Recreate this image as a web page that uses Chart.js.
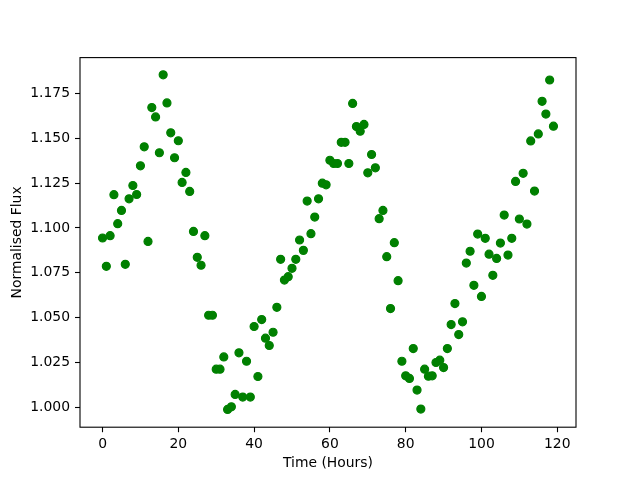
<!DOCTYPE html>
<html>
<head>
<meta charset="utf-8">
<script src="https://cdn.jsdelivr.net/npm/chart.js@4"></script>
<style>
    body { margin: 0; background: #fff; }
</style>
</head>
<body>
<canvas id="fluxChart" width="640" height="480"></canvas>
<script>
const hours = [
    0, 1, 2, 3, 4, 5, 6, 7, 8, 9, 10, 11, 12, 13, 14, 15, 16, 17, 18, 19,
    20, 21, 22, 23, 24, 25, 26, 27, 28, 29, 30, 31, 32, 33, 34, 35, 36, 37, 38, 39,
    40, 41, 42, 43, 44, 45, 46, 47, 48, 49, 50, 51, 52, 53, 54, 55, 56, 57, 58, 59,
    60, 61, 62, 63, 64, 65, 66, 67, 68, 69, 70, 71, 72, 73, 74, 75, 76, 77, 78, 79,
    80, 81, 82, 83, 84, 85, 86, 87, 88, 89, 90, 91, 92, 93, 94, 95, 96, 97, 98, 99,
    100, 101, 102, 103, 104, 105, 106, 107, 108, 109, 110, 111, 112, 113, 114, 115, 116, 117, 118, 119
];
const flux = [
    1.0944, 1.0786, 1.0957, 1.1186, 1.1024, 1.1098, 1.0797, 1.1163, 1.1237, 1.1187,
    1.1347, 1.1453, 1.0925, 1.1672, 1.1620, 1.1420, 1.1855, 1.1698, 1.1531, 1.1392,
    1.1487, 1.1254, 1.1310, 1.1204, 1.0981, 1.0836, 1.0792, 1.0957, 1.0513, 1.0513,
    1.0212, 1.0212, 1.0280, 0.9987, 1.0002, 1.0071, 1.0303, 1.0056, 1.0256, 1.0056,
    1.0450, 1.0171, 1.0489, 1.0385, 1.0344, 1.0418, 1.0557, 1.0825, 1.0709, 1.0728,
    1.0775, 1.0825, 1.0933, 1.0875, 1.1150, 1.0968, 1.1061, 1.1163, 1.1250, 1.1241,
    1.1378, 1.1360, 1.1360, 1.1478, 1.1478, 1.1360, 1.1695, 1.1566, 1.1540, 1.1578,
    1.1308, 1.1410, 1.1336, 1.1052, 1.1098, 1.0840, 1.0550, 1.0918, 1.0706, 1.0256,
    1.0175, 1.0160, 1.0327, 1.0095, 0.9989, 1.0212, 1.0173, 1.0175, 1.0249, 1.0262,
    1.0221, 1.0327, 1.0461, 1.0578, 1.0405, 1.0476, 1.0804, 1.0870, 1.0680, 1.0966,
    1.0618, 1.0942, 1.0854, 1.0736, 1.0830, 1.0916, 1.1072, 1.0849, 1.0942, 1.1260,
    1.1050, 1.1305, 1.1022, 1.1486, 1.1206, 1.1525, 1.1707, 1.1636, 1.1826, 1.1568
];
const xTickValues = [0, 20, 40, 60, 80, 100, 120];
const yTickValues = [1.000, 1.025, 1.050, 1.075, 1.100, 1.125, 1.150, 1.175];

const font = { family: "'DejaVu Sans', sans-serif", size: 13.9 };

// matplotlib style box around the plot area
const frame = {
    id: 'frame',
    afterDraw(chart) {
        const { ctx, chartArea: a } = chart;
        ctx.save();
        ctx.strokeStyle = '#000';
        ctx.lineWidth = 1.1;
        ctx.strokeRect(a.left, a.top, a.right - a.left, a.bottom - a.top);
        ctx.restore();
    }
};

Chart.defaults.color = '#000';

const ctx = document.getElementById("fluxChart").getContext("2d");
new Chart(ctx, {
    type: 'scatter',
    data: {
        datasets: [{
            data: hours.map((h, i) => ({ x: h, y: flux[i] })),
            backgroundColor: '#008000',
            borderColor: '#008000',
            borderWidth: 1.2,
            pointRadius: 4,
            pointHoverRadius: 4
        }]
    },
    options: {
        responsive: false,
        animation: false,
        layout: { padding: { left: 0, right: 64, top: 57.6, bottom: 0 } },
        plugins: {
            legend: { display: false },
            tooltip: { enabled: false }
        },
        scales: {
            x: {
                type: 'linear',
                min: -5.95,
                max: 124.95,
                afterBuildTicks: s => { s.ticks = xTickValues.map(v => ({ value: v })); },
                afterFit: s => { s.height = 52.8; },
                border: { display: false },
                grid: { drawOnChartArea: false, tickLength: 5, tickColor: '#000', tickWidth: 1.1 },
                ticks: { font: font, padding: 4, maxRotation: 0, autoSkip: false },
                title: { display: true, text: 'Time (Hours)', font: font, padding: { top: 0, bottom: 8 } }
            },
            y: {
                type: 'linear',
                min: 0.9888,
                max: 1.1951,
                afterBuildTicks: s => { s.ticks = yTickValues.map(v => ({ value: v })); },
                afterFit: s => { s.width = 80; },
                border: { display: false },
                grid: { drawOnChartArea: false, tickLength: 5, tickColor: '#000', tickWidth: 1.1 },
                ticks: { font: font, padding: 5, autoSkip: false, callback: v => v.toFixed(3) },
                title: { display: true, text: 'Normalised Flux', font: font, padding: { top: 9, bottom: 0 } }
            }
        }
    },
    plugins: [frame]
});
</script>
</body>
</html>
